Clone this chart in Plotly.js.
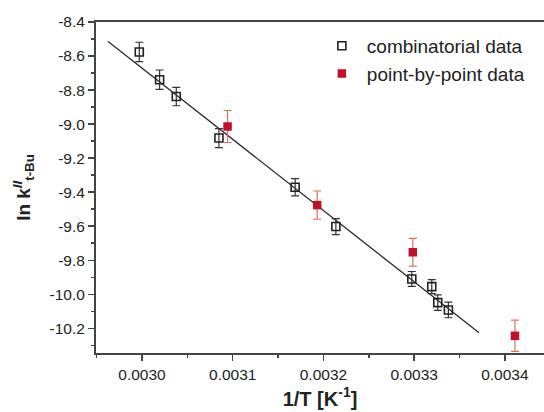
<!DOCTYPE html>
<html>
<head>
<meta charset="utf-8">
<script src="https://cdn.plot.ly/plotly-3.0.1.min.js"></script>
<style>html,body{margin:0;padding:0;background:#fff;}#chart{width:544px;height:412px;}</style>
</head>
<body>
<div id="chart"></div>
<script>
// Combinatorial data (open squares)
const combX = [0.0029970, 0.0030194, 0.0030378, 0.0030848, 0.0031688, 0.0032137, 0.0032974, 0.0033194, 0.0033260, 0.0033377];
const combY = [-8.576, -8.739, -8.838, -9.082, -9.371, -9.602, -9.910, -9.955, -10.049, -10.092];
const combErr = [0.057, 0.057, 0.054, 0.056, 0.051, 0.047, 0.044, 0.041, 0.046, 0.046];

// Point-by-point data (filled red squares)
const pbpX = [0.0030943, 0.0031931, 0.0032985, 0.0034111];
const pbpY = [-9.014, -9.476, -9.753, -10.244];
const pbpErr = [0.094, 0.083, 0.082, 0.092];

// Linear fit line end points
const fitX = [0.0029626, 0.0033715];
const fitY = [-8.514, -10.226];

// Tick labels (hyphen minus as in the original)
const yTickVals = [-8.4, -8.6, -8.8, -9.0, -9.2, -9.4, -9.6, -9.8, -10.0, -10.2];
const yTickText = ['-8.4', '-8.6', '-8.8', '-9.0', '-9.2', '-9.4', '-9.6', '-9.8', '-10.0', '-10.2'];
const xTickVals = [0.0030, 0.0031, 0.0032, 0.0033, 0.0034];
const xTickText = ['0.0030', '0.0031', '0.0032', '0.0033', '0.0034'];

const traces = [
  {
    x: fitX, y: fitY, mode: 'lines', type: 'scatter', showlegend: false,
    line: {color: '#2a2a2a', width: 1.3}, hoverinfo: 'skip'
  },
  {
    x: combX, y: combY, mode: 'markers', type: 'scatter', name: 'combinatorial data',
    marker: {symbol: 'square-open', size: 8, color: '#222222', line: {width: 1.6, color: '#222222'}},
    error_y: {type: 'data', array: combErr, visible: true, color: '#333333', thickness: 1.2, width: 4}
  },
  {
    x: pbpX, y: pbpY, mode: 'markers', type: 'scatter', name: 'point-by-point data',
    marker: {symbol: 'square', size: 8.5, color: '#c0102a', line: {width: 0}},
    error_y: {type: 'data', array: pbpErr, visible: true, color: '#e0705e', thickness: 1.2, width: 4}
  }
];

const layout = {
  width: 544, height: 412,
  margin: {l: 96, r: 0, t: 22, b: 59},
  paper_bgcolor: '#ffffff', plot_bgcolor: '#ffffff',
  font: {family: 'Liberation Sans, Arial, sans-serif', size: 15.5, color: '#222222'},
  showlegend: true,
  legend: {
    x: 0.493, y: 0.985, xanchor: 'left', yanchor: 'top',
    bgcolor: 'rgba(0,0,0,0)', borderwidth: 0,
    font: {family: 'Liberation Sans, Arial, sans-serif', size: 19, color: '#222222'},
    itemwidth: 40, tracegroupgap: 0
  },
  xaxis: {
    range: [0.0029493, 0.0034431],
    tickmode: 'array', tickvals: xTickVals, ticktext: xTickText,
    ticks: 'outside', ticklen: 6, tickwidth: 1.5, tickcolor: '#444444',
    minor: {tickmode: 'linear', tick0: 0.0030, dtick: 0.00005, ticks: 'outside', ticklen: 3, tickwidth: 1.5, tickcolor: '#444444'},
    showline: true, linecolor: '#444444', linewidth: 2, mirror: true,
    showgrid: false, zeroline: false,
    tickfont: {size: 15.5, color: '#222222'},
    title: {text: '<b>1/T [K<sup>-1</sup>]</b>', font: {size: 20, color: '#222222'}, standoff: 10}
  },
  yaxis: {
    range: [-10.345, -8.4],
    tickmode: 'array', tickvals: yTickVals, ticktext: yTickText,
    ticks: 'outside', ticklen: 6, tickwidth: 1.5, tickcolor: '#444444',
    minor: {tickmode: 'linear', tick0: -8.4, dtick: 0.1, ticks: 'outside', ticklen: 3, tickwidth: 1.5, tickcolor: '#444444'},
    showline: true, linecolor: '#444444', linewidth: 2, mirror: false,
    showgrid: false, zeroline: false,
    tickfont: {size: 15.5, color: '#222222'},
    title: {text: '<b>ln k<sup><i>II</i></sup><sub>t-Bu</sub></b>', font: {size: 19, color: '#222222'}, standoff: 14}
  }
};

Plotly.newPlot('chart', traces, layout, {displayModeBar: false, staticPlot: true});
</script>
</body>
</html>
